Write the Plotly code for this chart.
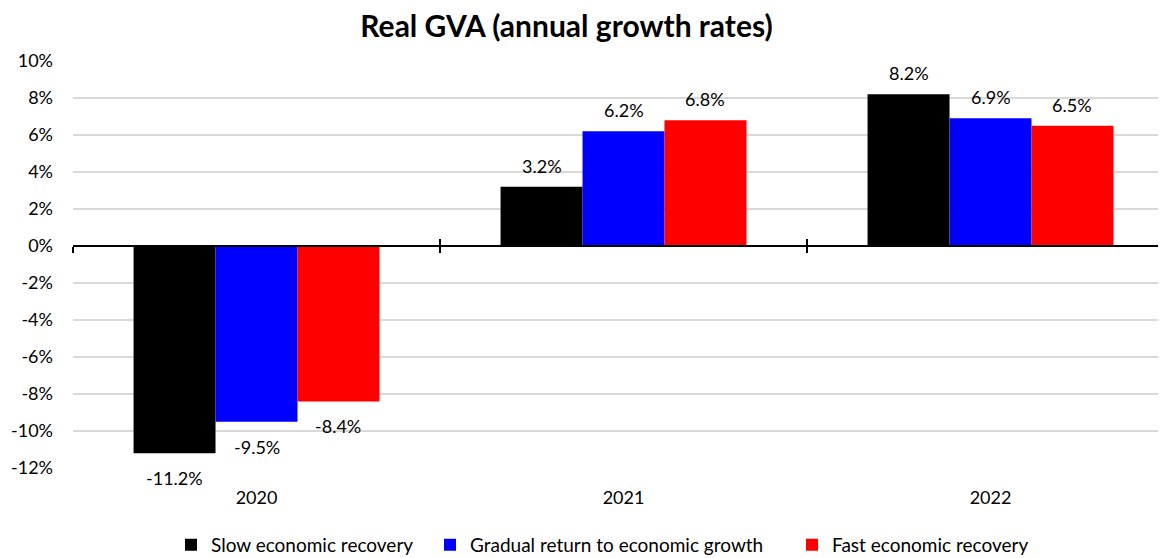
import plotly.graph_objects as go

years = ['2020', '2021', '2022']
scenarios = ['Slow economic recovery', 'Gradual return to economic growth', 'Fast economic recovery']
slow = [-11.2, 3.2, 8.2]
gradual = [-9.5, 6.2, 6.9]
fast = [-8.4, 6.8, 6.5]
colors = ['#000000', '#0000ff', '#ff0000']
y_ticks = list(range(-12, 11, 2))

FONT = 'Lato, Carlito, sans-serif'
BARGAP = 0.33
legend_x = [163, 422, 784]  # px, left edge of each legend box

fig = go.Figure()
series = [slow, gradual, fast]
for k, (name, vals, col) in enumerate(zip(scenarios, series, colors)):
    fig.add_trace(go.Bar(x=[0, 1, 2],
                         y=vals,
                         name=name,
                         marker=dict(color=col, line=dict(width=0)),
                         legend='legend' if k == 0 else f'legend{k + 1}',
                         hovertemplate='%{y:.1f}%'))

# data labels, placed a bit further from the bar ends than plotly's default
bw = (1 - BARGAP) / 3
annotations = []
for k, vals in enumerate(series):
    for i, v in enumerate(vals):
        annotations.append(dict(x=i + (k - 1) * bw, y=v, xref='x', yref='y',
                                text=f'{v:.1f}%', showarrow=False,
                                yanchor='middle', yshift=21 if v >= 0 else -25,
                                font=dict(size=18, color='#000000', family=FONT)))

# empty traces so the zero-line axes get drawn
for ax in ['x2', 'x3']:
    fig.add_trace(go.Scatter(x=[None], y=[None], xaxis=ax, showlegend=False,
                             hoverinfo='skip', mode='lines'))

# category boundary ticks crossing the zero line
boundary_ticks = [-0.5, 0.5, 1.5, 2.5]
xr = [-0.5, 2.5]
zero_pos = 12 / 22
axis_common = dict(overlaying='x', anchor='free', position=zero_pos, range=xr,
                   tickmode='array', tickvals=boundary_ticks, showticklabels=False,
                   showgrid=False, zeroline=False, showline=True, linecolor='#000000',
                   linewidth=2, ticklen=6, tickwidth=2, tickcolor='#000000')

legend_common = dict(orientation='h', xref='container', yref='container',
                     xanchor='left', y=0.038, yanchor='middle',
                     font=dict(size=19), itemwidth=30, bgcolor='rgba(0,0,0,0)')

fig.update_layout(
    title=dict(text='<b>Real GVA (annual growth rates)</b>', x=0.479, xanchor='center',
               y=0.966, yanchor='middle', font=dict(size=30, family=FONT, color='#000000')),
    width=1166, height=558,
    margin=dict(l=65, r=0, t=53, b=98, autoexpand=False),
    plot_bgcolor='white', paper_bgcolor='white',
    barmode='group', bargap=BARGAP, bargroupgap=0,
    font=dict(family=FONT, size=18, color='#000000'),
    xaxis=dict(range=xr, tickmode='array', tickvals=[0, 1, 2], ticktext=years,
               showgrid=False, zeroline=False, showline=False, ticks='',
               ticklabelstandoff=17, tickfont=dict(size=18)),
    xaxis2=dict(ticks='outside', **axis_common),
    xaxis3=dict(ticks='inside', **axis_common),
    yaxis=dict(range=[-12, 10], tickmode='array', tickvals=y_ticks,
               ticktext=[f'{t}%' for t in y_ticks], showgrid=True,
               gridcolor='#d9d9d9', gridwidth=1.5, zeroline=False, showline=False,
               ticks='', ticklabelstandoff=19, tickfont=dict(size=18)),
    legend=dict(x=legend_x[0] / 1166, **legend_common),
    legend2=dict(x=legend_x[1] / 1166, **legend_common),
    legend3=dict(x=legend_x[2] / 1166, **legend_common),
    annotations=annotations,
    showlegend=True,
)

fig.write_html('out.html')
